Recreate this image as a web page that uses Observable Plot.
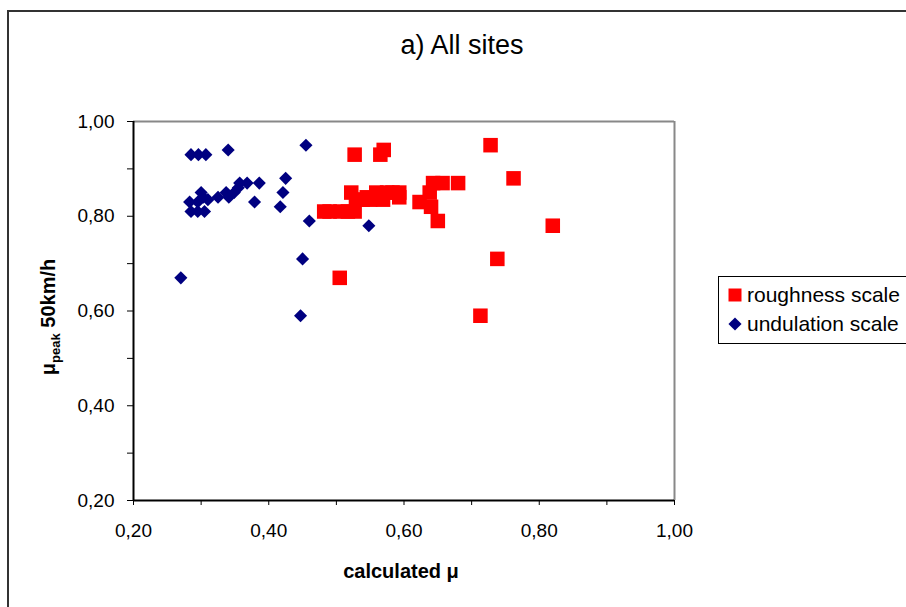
<!DOCTYPE html>
<html>
<head>
<meta charset="utf-8">
<script src="https://cdn.jsdelivr.net/npm/d3@7"></script>
<script src="https://cdn.jsdelivr.net/npm/@observablehq/plot@0.6"></script>
<style>
  body { margin: 0; background: #fff; font-family: Arial, "Liberation Sans", sans-serif; }
  #wrap { position: relative; width: 906px; height: 607px; overflow: hidden; background: #fff; }
  #border { position: absolute; left: 7px; top: 10px; width: 1000px; height: 1000px;
            border-left: 2px solid #333; border-top: 2px solid #333; }
  #chart { position: absolute; left: 0; top: 0; }
  #title { position: absolute; left: 0; width: 924px; top: 30px; text-align: center;
           font-size: 27px; color: #000; }
  #xlabel { position: absolute; left: 0; width: 802px; top: 560px; text-align: center;
            font-size: 20px; font-weight: bold; color: #000; }
  #ylabel { position: absolute; left: 50px; top: 317px; transform: translate(-50%, -50%) rotate(-90deg);
            white-space: nowrap; font-size: 20px; font-weight: bold; color: #000; }
  #ylabel sub { font-size: 13px; }
  #legend { position: absolute; left: 718px; top: 276px; width: 220px; height: 66px;
            border: 1px solid #000; background: #fff; font-size: 21px; color: #000; }
  .lg { position: absolute; left: 8px; height: 24px; display: flex; align-items: center; }
  .lg svg { margin-right: 4px; }
</style>
</head>
<body>
<div id="wrap">
  <div id="border"></div>
  <div id="chart"></div>
  <div id="title">a) All sites</div>
  <div id="xlabel">calculated μ</div>
  <div id="ylabel">μ<sub>peak</sub> 50km/h</div>
  <div id="legend"></div>
</div>
<script>
// ---- data ----
const seriesNames = ["roughness scale", "undulation scale"];
const seriesColors = ["#ff0000", "#000080"];

const roughX = [0.527, 0.565, 0.570, 0.482, 0.490, 0.506, 0.517, 0.527, 0.505, 0.522,
                0.529, 0.539, 0.550, 0.559, 0.569, 0.583, 0.593, 0.593, 0.623, 0.638,
                0.640, 0.643, 0.657, 0.680, 0.650, 0.728, 0.762, 0.820, 0.738, 0.713,
                0.575, 0.545];
const roughY = [0.93, 0.93, 0.94, 0.81, 0.81, 0.81, 0.81, 0.81, 0.67, 0.85,
                0.835, 0.835, 0.835, 0.85, 0.835, 0.85, 0.85, 0.84, 0.83, 0.85,
                0.82, 0.87, 0.87, 0.87, 0.79, 0.95, 0.88, 0.78, 0.71, 0.59,
                0.85, 0.84];

const undulX = [0.270, 0.285, 0.296, 0.307, 0.340, 0.455, 0.425, 0.421, 0.417, 0.379,
                0.386, 0.460, 0.450, 0.447, 0.548, 0.357, 0.368, 0.349, 0.337, 0.325,
                0.341, 0.355, 0.300, 0.303, 0.283, 0.295, 0.285, 0.295, 0.305, 0.310];
const undulY = [0.67, 0.93, 0.93, 0.93, 0.94, 0.95, 0.88, 0.85, 0.82, 0.83,
                0.87, 0.79, 0.71, 0.59, 0.78, 0.87, 0.87, 0.85, 0.85, 0.84,
                0.84, 0.86, 0.85, 0.84, 0.83, 0.83, 0.81, 0.81, 0.81, 0.835];

const axisTicks = [0.2, 0.3, 0.4, 0.5, 0.6, 0.7, 0.8, 0.9, 1.0];
const labeledTicks = [0.2, 0.4, 0.6, 0.8, 1.0];
// -------------

const rough = roughX.map((x, i) => ({x, y: roughY[i]}));
const undul = undulX.map((x, i) => ({x, y: undulY[i]}));
const fmt = d => labeledTicks.some(t => Math.abs(t - d) < 1e-9) ? d.toFixed(2).replace(".", ",") : "";

const plot = Plot.plot({
  width: 906,
  height: 607,
  marginLeft: 133,
  marginRight: 232,
  marginTop: 121,
  marginBottom: 107,
  style: { fontFamily: "Arial, 'Liberation Sans', sans-serif", fontSize: "19px", color: "#000", background: "transparent", overflow: "visible" },
  x: { domain: [0.2, 1.0], ticks: axisTicks, tickFormat: fmt, tickSize: 5, tickPadding: 18, label: null },
  y: { domain: [0.2, 1.0], ticks: axisTicks, tickFormat: fmt, tickSize: 6, tickPadding: 13, label: null },
  marks: [
    Plot.ruleY([1.0], { stroke: "#888", strokeWidth: 2 }),
    Plot.ruleX([1.0], { stroke: "#888", strokeWidth: 2 }),
    Plot.dot(rough, { x: "x", y: "y", symbol: "square", r: 8.2, fill: seriesColors[0], stroke: "none" }),
    Plot.dot(undul, { x: "x", y: "y", symbol: "diamond2", r: 5.9, fill: seriesColors[1], stroke: "none" }),
    Plot.ruleY([0.2], { stroke: "#000", strokeWidth: 2 }),
    Plot.ruleX([0.2], { stroke: "#000", strokeWidth: 2 })
  ]
});
document.getElementById("chart").appendChild(plot);

// legend
const legend = document.getElementById("legend");
const symbols = [d3.symbolSquare, d3.symbolDiamond2];
const sizes = [169, 110];
seriesNames.forEach((name, i) => {
  const row = document.createElement("div");
  row.className = "lg";
  row.style.top = (i === 0 ? 6 : 35) + "px";
  const svg = d3.create("svg").attr("width", 16).attr("height", 16);
  svg.append("path")
    .attr("transform", "translate(8,8)")
    .attr("d", d3.symbol(symbols[i], sizes[i])())
    .attr("fill", seriesColors[i]);
  row.appendChild(svg.node());
  const span = document.createElement("span");
  span.textContent = name;
  row.appendChild(span);
  legend.appendChild(row);
});
</script>
</body>
</html>
